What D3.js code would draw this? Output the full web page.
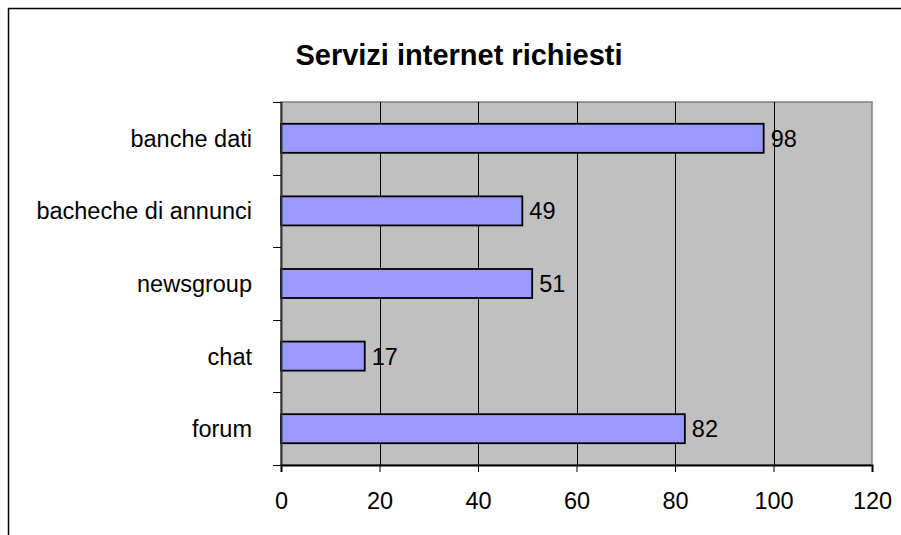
<!DOCTYPE html>
<html>
<head>
<meta charset="utf-8">
<script src="https://cdn.jsdelivr.net/npm/d3@7"></script>
<style>
  body { margin: 0; background: #fff; }
  text { font-family: "Liberation Sans", Arial, sans-serif; fill: #000; }
</style>
</head>
<body>
<div id="chart"></div>
<script>
var width = 901;
var height = 535;

// data
var categories = ['banche dati', 'bacheche di annunci', 'newsgroup', 'chat', 'forum'];
var values = [98, 49, 51, 17, 82];
var xTicks = [0, 20, 40, 60, 80, 100, 120];
var title = 'Servizi internet richiesti';

var svg = d3.select('#chart')
    .append('svg')
    .attr('width', width)
    .attr('height', height);

// outer frame (runs off the right and bottom edges)
svg.append('rect')
    .attr('x', 8.5).attr('y', 8.5)
    .attr('width', 900).attr('height', 540)
    .attr('fill', '#fff')
    .attr('stroke', '#000')
    .attr('stroke-width', 1.5);

var plotLeft = 281, plotRight = 872, plotTop = 102, plotBottom = 465;

var x = d3.scaleLinear()
    .domain([0, 120])
    .range([plotLeft, plotRight]);

var y = d3.scaleBand()
    .domain(categories)
    .range([plotTop, plotBottom]);

// plot background
svg.append('rect')
    .attr('x', plotLeft).attr('y', plotTop)
    .attr('width', plotRight - plotLeft).attr('height', plotBottom - plotTop)
    .attr('fill', '#c0c0c0')
    .attr('stroke', '#808080')
    .attr('stroke-width', 1.5);

// vertical gridlines
svg.selectAll('line.grid')
    .data(xTicks.slice(1, -1))
    .enter()
    .append('line')
    .attr('class', 'grid')
    .attr('x1', function(d){ return Math.round(x(d)) + 0.5; })
    .attr('x2', function(d){ return Math.round(x(d)) + 0.5; })
    .attr('y1', plotTop)
    .attr('y2', plotBottom)
    .attr('stroke', '#000')
    .attr('stroke-width', 1);

// bars
var barH = y.bandwidth() * 0.4;
svg.selectAll('rect.bar')
    .data(categories)
    .enter()
    .append('rect')
    .attr('class', 'bar')
    .attr('x', x(0))
    .attr('y', function(d){ return y(d) + (y.bandwidth() - barH) / 2; })
    .attr('width', function(d, i){ return x(values[i]) - x(0); })
    .attr('height', barH)
    .attr('fill', '#9999ff')
    .attr('stroke', '#000')
    .attr('stroke-width', 1.8);

// value labels
svg.selectAll('text.val')
    .data(categories)
    .enter()
    .append('text')
    .attr('class', 'val')
    .attr('x', function(d, i){ return x(values[i]) + 7; })
    .attr('y', function(d){ return y(d) + y.bandwidth() / 2; })
    .attr('dy', '0.36em')
    .style('font-size', '23.5px')
    .text(function(d, i){ return values[i]; });

// category axis
svg.append('line')
    .attr('x1', plotLeft + 0.5).attr('x2', plotLeft + 0.5)
    .attr('y1', plotTop).attr('y2', plotBottom)
    .attr('stroke', '#333').attr('stroke-width', 2);

var bounds = categories.map(function(d){ return y(d); }).concat([plotBottom]);
svg.selectAll('line.ytick')
    .data(bounds)
    .enter()
    .append('line')
    .attr('x1', 273).attr('x2', plotLeft)
    .attr('y1', function(d){ return Math.round(d) + 0.5; })
    .attr('y2', function(d){ return Math.round(d) + 0.5; })
    .attr('stroke', '#000');

svg.selectAll('text.cat')
    .data(categories)
    .enter()
    .append('text')
    .attr('class', 'cat')
    .attr('x', 252)
    .attr('y', function(d){ return y(d) + y.bandwidth() / 2; })
    .attr('dy', '0.36em')
    .attr('text-anchor', 'end')
    .style('font-size', '23.5px')
    .text(function(d){ return d; });

// value axis
var xAxis = d3.axisBottom(x)
    .tickValues(xTicks)
    .tickSize(7)
    .tickPadding(20);

var gx = svg.append('g')
    .attr('transform', 'translate(0,' + plotBottom + ')')
    .call(xAxis);

gx.select('.domain').attr('stroke', '#000').attr('stroke-width', 2);
gx.selectAll('.tick line').attr('stroke', '#000');
gx.selectAll('.tick text')
    .style('font-size', '23.5px')
    .style('font-family', '"Liberation Sans", Arial, sans-serif')
    .attr('fill', '#000');

// title
svg.append('text')
    .attr('x', 459)
    .attr('y', 65)
    .attr('text-anchor', 'middle')
    .style('font-size', '29px')
    .style('font-weight', 'bold')
    .text(title);
</script>
</body>
</html>
